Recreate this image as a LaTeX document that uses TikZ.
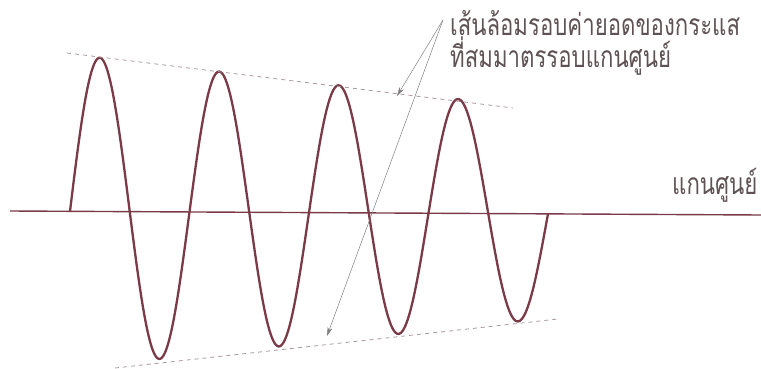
\documentclass[tikz,border=0pt]{standalone}
\usepackage{fontspec}
\newfontfamily\thaifont[Script=Thai,FakeStretch=0.74]{Loma}
\usetikzlibrary{arrows.meta}
\definecolor{onda}{HTML}{7A3A48}
\definecolor{testo}{HTML}{5E5254}
\definecolor{inviluppo}{HTML}{A8989C}
\tikzset{
  asse/.style={onda,line width=1.4pt},
  curva/.style={onda,line width=2.3pt},
  envelope/.style={inviluppo,line width=0.8pt,dash pattern=on 4pt off 4pt},
  freccia/.style={gray,line width=0.5pt,-{Stealth[length=9pt,width=5pt]}},
  etichetta/.style={testo,font=\thaifont\fontsize{30}{30}\selectfont,inner sep=0pt}
}
\begin{document}
\begin{tikzpicture}[x=1pt,y=-1pt]
  \useasboundingbox (0,0) rectangle (761,369);

  % asse
  \draw[asse] (10,211) -- (761,215);
  \node[etichetta,anchor=base west] (zero) at (672,194) {แกนศูนย์};

  % onda
  \draw[curva,line join=round] plot[domain=70:548,samples=400,smooth]
    (\x,{211+0.005326*(\x-10) - (157-0.11*(\x-70))*sin(3.01255*(\x-70))});

  % inviluppo
  \draw[envelope] (67,53) -- (513,108);
  \draw[envelope] (115,368) -- (558,319);

  % etichetta e frecce
  \node[etichetta,anchor=north west,align=left] (label) at (450,10)
    {เส้นล้อมรอบค่ายอดของกระแส\\ที่สมมาตรรอบแกนศูนย์};
  \coordinate (apice) at (443,20);
  \coordinate (sopra) at (397,96);
  \coordinate (sotto) at (327,336);
  \draw[freccia] (apice) -- (sopra);
  \draw[freccia] (apice) -- (sotto);
\end{tikzpicture}
\end{document}
